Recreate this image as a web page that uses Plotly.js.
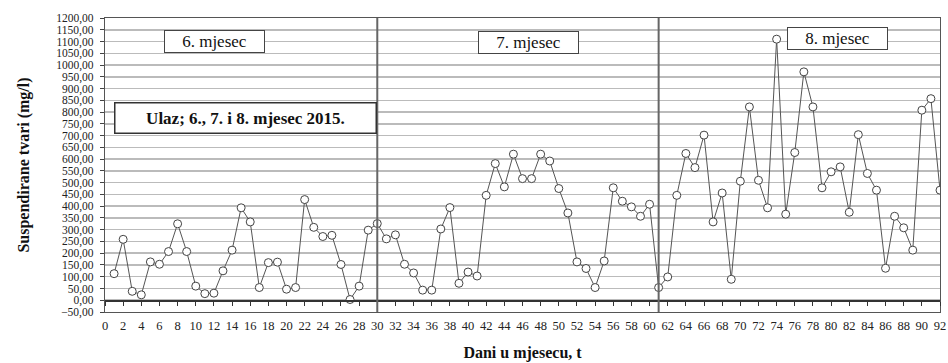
<!DOCTYPE html>
<html>
<head>
<meta charset="utf-8">
<script src="https://cdn.plot.ly/plotly-3.0.1.min.js"></script>
<style>
html,body{margin:0;padding:0;background:#fff;}
#chart{width:948px;height:363px;}
</style>
</head>
<body>
<div id="chart"></div>
<script>
// Days of the period (1..92) and suspended solids (mg/l)
const days = [];
for (let d = 1; d <= 92; d++) days.push(d);

const suspended = [
  113, 259, 38, 23, 163, 153, 207, 325, 207, 60,
  28, 30, 125, 213, 393, 333, 54, 160, 162, 47,
  54, 428, 310, 271, 276, 152, 3, 60, 298, 326,
  261, 278, 153, 116, 43, 43, 303, 394, 72, 120,
  103, 446, 581, 482, 621, 517, 517, 621, 592, 475,
  371, 163, 135, 54, 167, 478, 421, 397, 357, 408,
  54, 99, 446, 624, 564, 702, 333, 456, 89, 506,
  822, 510, 393, 1110, 366, 628, 971, 822, 478, 546,
  567, 374, 704, 539, 468, 136, 357, 308, 213, 808,
  857, 468
];

const monthBoundaries = [30, 61];
const monthLabels = ["6. mjesec", "7. mjesec", "8. mjesec"];
const monthLabelX = [12.1, 46.7, 80.7];
const monthLabelY = [1101, 1097, 1112];
const titleBoxText = "Ulaz; 6., 7. i 8. mjesec 2015.";

const serif = "Liberation Serif, Times New Roman, serif";

const traces = [
  {
    x: days, y: suspended, type: "scatter", mode: "lines+markers",
    line: {color: "#555", width: 1},
    marker: {symbol: "circle", size: 8, color: "#fff", line: {color: "#444", width: 1}},
    hoverinfo: "x+y", showlegend: false
  },
  {
    // invisible helper to draw the axis crossing at y = 0
    x: [days[0]], y: [suspended[0]], xaxis: "x2", yaxis: "y",
    type: "scatter", mode: "markers", marker: {opacity: 0},
    hoverinfo: "skip", showlegend: false
  }
];

const shapes = monthBoundaries.map(b => ({
  type: "line", xref: "x", yref: "paper", x0: b, x1: b, y0: 0, y1: 1,
  line: {color: "#666", width: 2}, layer: "above"
}));

const annotations = monthLabels.map((t, i) => ({
  text: t, x: monthLabelX[i], y: monthLabelY[i], xref: "x", yref: "y",
  showarrow: false, font: {family: serif, size: 17, color: "#111"},
  bgcolor: "#fff", bordercolor: "#444", borderwidth: 1, borderpad: 1,
  width: 97, height: 19
}));
annotations.push({
  text: "<b>" + titleBoxText + "</b>", x: 15.5, y: 774, xref: "x", yref: "y",
  showarrow: false, font: {family: serif, size: 17, color: "#111"},
  bgcolor: "#fff", bordercolor: "#333", borderwidth: 1.5, borderpad: 2,
  width: 256, height: 25
});

const layout = {
  width: 948, height: 363,
  margin: {l: 105, r: 8, t: 18, b: 51},
  paper_bgcolor: "#fff", plot_bgcolor: "#fff",
  separators: ",.",
  font: {family: serif},
  xaxis: {
    range: [0, 92], tickmode: "linear", tick0: 0, dtick: 2,
    showgrid: false, zeroline: false,
    showline: true, linecolor: "#555", linewidth: 1.2, mirror: true,
    ticks: "", ticklabelstandoff: 2,
    tickfont: {family: serif, size: 12.5, color: "#222"},
    title: {text: "<b>Dani u mjesecu, t</b>", font: {family: serif, size: 16, color: "#111"}, standoff: 14}
  },
  xaxis2: {
    overlaying: "x", matches: "x", anchor: "free", position: 0.04, side: "bottom",
    range: [0, 92], tickmode: "linear", tick0: 0, dtick: 2,
    showgrid: false, zeroline: false, showticklabels: false,
    showline: true, linecolor: "#333", linewidth: 1.5,
    ticks: "outside", ticklen: 4, tickcolor: "#333", tickwidth: 1
  },
  yaxis: {
    range: [-50, 1200], tickmode: "linear", tick0: -50, dtick: 50,
    tickformat: ".2f",
    showgrid: true, gridcolor: "#bbb", gridwidth: 1.5, zeroline: false,
    showline: true, linecolor: "#555", linewidth: 1.2, mirror: true,
    ticks: "outside", ticklen: 4, tickcolor: "#444", ticklabelstandoff: 4,
    tickfont: {family: serif, size: 11.5, color: "#222"},
    title: {text: "<b>Suspendirane tvari (mg/l)</b>", font: {family: serif, size: 16, color: "#111"}, standoff: 22}
  },
  shapes: shapes,
  annotations: annotations,
  showlegend: false
};

Plotly.newPlot("chart", traces, layout, {displayModeBar: false, staticPlot: true});
</script>
</body>
</html>
